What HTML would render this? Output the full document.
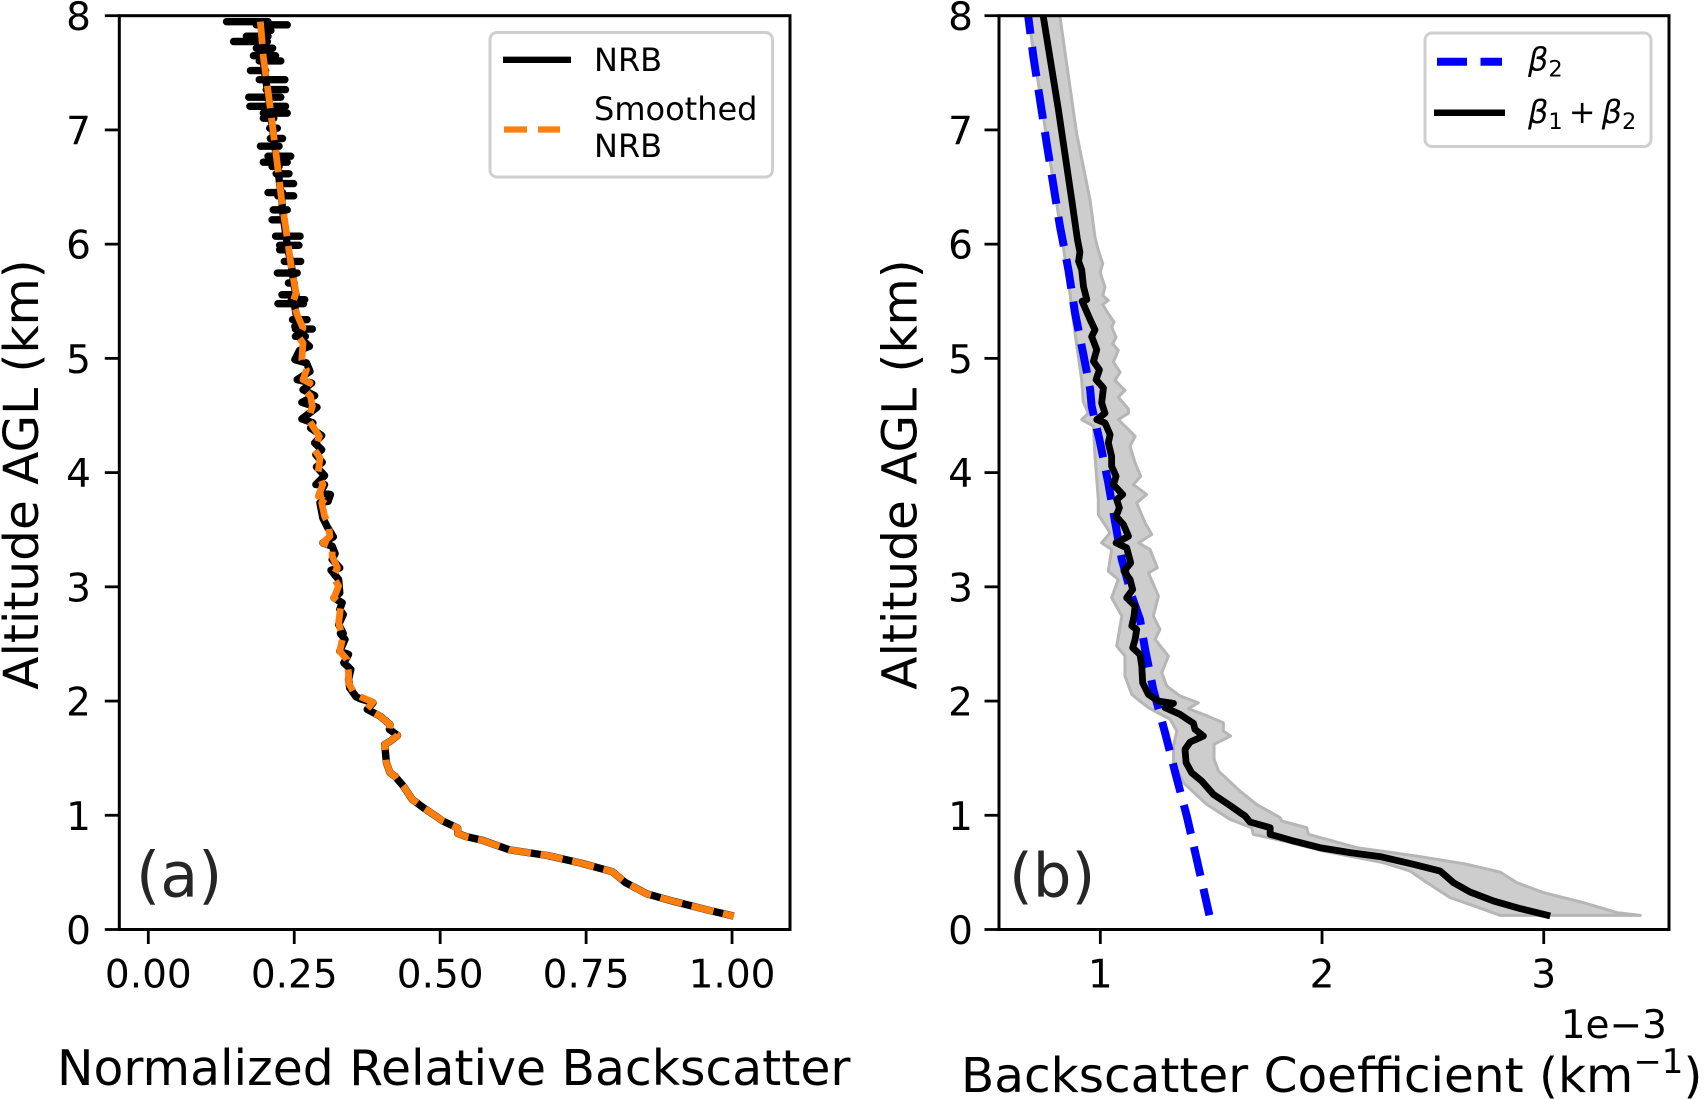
<!DOCTYPE html>
<html lang="en">
<head>
<meta charset="utf-8">
<title>NRB and backscatter coefficient profiles</title>
<style>
html,body{margin:0;padding:0;background:#fff;width:1705px;height:1099px;overflow:hidden}
svg{display:block}
text{font-family:"DejaVu Sans","Liberation Sans",sans-serif;fill:#000}
</style>
</head>
<body>
<svg id="figure" xmlns="http://www.w3.org/2000/svg" width="1705" height="1099" viewBox="0 0 1705 1099">
  <rect x="0" y="0" width="1705" height="1099" fill="#fff"/>
  <defs>
    <clipPath id="clipA"><rect x="119.3" y="15.7" width="670.7" height="913.8"/></clipPath>
    <clipPath id="clipB"><rect x="999" y="15.7" width="670" height="913.8"/></clipPath>
  </defs>
  <g id="panelA"></g>
  <g id="panelB"></g>

  <text transform="translate(38,474.5) rotate(-90)" text-anchor="middle" font-size="48.5">Altitude AGL (km)</text>
  <text x="57" y="1085" font-size="48.8">Normalized Relative Backscatter</text>
  <text x="136" y="896.5" font-size="62" style="fill:#262626">(a)</text>

  <text transform="translate(916.5,474.5) rotate(-90)" text-anchor="middle" font-size="48.5">Altitude AGL (km)</text>
  <text x="961" y="1092" font-size="48.5">Backscatter Coefficient (km<tspan dy="-19" font-size="34">−1</tspan><tspan dy="19">)</tspan></text>
  <text x="1667" y="1038" text-anchor="end" font-size="39">1e−3</text>
  <text x="1009" y="896.5" font-size="61" style="fill:#262626">(b)</text>

  <g>
    <rect x="490" y="32.5" width="282.5" height="144.5" rx="7" fill="#fff" stroke="#cfcfcf" stroke-width="3"/>
    <line x1="503" y1="59.8" x2="571" y2="59.8" stroke="#000" stroke-width="6.3"/>
    <text x="594" y="71" font-size="32">NRB</text>
    <line x1="504" y1="129.5" x2="560" y2="129.5" stroke="#ff7f0e" stroke-width="6.3" stroke-dasharray="23 11"/>
    <text x="594" y="120" font-size="32">Smoothed</text>
    <text x="594" y="157" font-size="32">NRB</text>
  </g>
  <g>
    <rect x="1425" y="33" width="226" height="113.5" rx="7" fill="#fff" stroke="#cfcfcf" stroke-width="3"/>
    <line x1="1437" y1="61.7" x2="1502" y2="61.7" stroke="#0000ff" stroke-width="8" stroke-dasharray="30 13.5"/>
    <text x="1528" y="70.5" font-size="32"><tspan font-style="italic">β</tspan><tspan font-size="22.5" dy="6">2</tspan></text>
    <line x1="1434" y1="112.7" x2="1505" y2="112.7" stroke="#000" stroke-width="6.5"/>
    <text x="1528" y="123" font-size="32"><tspan font-style="italic">β</tspan><tspan font-size="22.5" dy="6">1</tspan><tspan dy="-6" dx="6">+</tspan><tspan dx="6" font-style="italic">β</tspan><tspan font-size="22.5" dy="6">2</tspan></text>
  </g>
</svg>
<script>
const altitudeTicks = [0, 1, 2, 3, 4, 5, 6, 7, 8];
const nrbTicks = [0, 0.25, 0.5, 0.75, 1];
const nrbTickLabels = ['0.00', '0.25', '0.50', '0.75', '1.00'];
const backscatterTicks = [1, 2, 3];
const backscatterTickLabels = ['1', '2', '3'];

// Noisy upper NRB profile: at each altitude the signal swings between a low and a high reading.
const nrbUpperAltitudes = [7.948,7.92,7.87,7.82,7.774,7.715,7.65,7.604,7.52,7.44,7.353,7.287,7.207,7.147,7.103,7.015,6.925,6.858,6.77,6.718,6.68,6.616,6.53,6.452,6.423,6.3,6.213,6.07,5.99,5.951,5.849,5.747,5.66,5.557,5.514,5.479,5.339,5.28,5.257,5.193];
const nrbUpperLow = [.134,.185,.197,.168,.146,.185,.180,.19,.175,.19,.202,.172,.174,.197,.197,.208,.209,.192,.205,.197,.212,.219,.225,.205,.222,.214,.212,.218,.225,.225,.233,.221,.24,.229,.245,.222,.247,.251,.252,.252];
const nrbUpperHigh = [.205,.238,.21,.205,.204,.213,.218,.227,.201,.234,.235,.227,.235,.238,.215,.221,.23,.224,.244,.238,.224,.241,.249,.23,.249,.238,.233,.26,.258,.24,.261,.255,.25,.252,.268,.266,.272,.262,.281,.269];
const nrbUpperMean = [.192,.193,.194,.195,.195,.196,.197,.197,.199,.201,.204,.206,.208,.209,.210,.213,.215,.217,.219,.221,.222,.223,.225,.227,.228,.23,.232,.236,.238,.239,.244,.247,.249,.253,.253,.25,.255,.257,.259,.257];

// Lower NRB profile.
const nrbValues = [.276,.259,.251,.271,.277,.255,.28,.265,.285,.263,.289,.263,.282,.278,.297,.285,.297,.287,.298,.288,.302,.287,.302,.294,.312,.308,.294,.299,.306,.317,.299,.315,.32,.315,.328,.313,.326,.328,.318,.332,.328,.334,.326,.334,.329,.337,.328,.343,.335,.347,.343,.345,.356,.363,.385,.375,.397,.414,.413,.427,.415,.405,.406,.408,.414,.422,.437,.452,.471,.494,.502,.505,.530,.530,.544,.572,.619,.685,.742,.795,.817,.854,.901,.958,1.003];
const nrbAltitudes = [5.105,5.07,4.989,4.96,4.886,4.814,4.784,4.726,4.674,4.615,4.572,4.47,4.435,4.39,4.324,4.26,4.2,4.158,4.09,4.05,3.974,3.895,3.895,3.822,3.808,3.749,3.735,3.603,3.53,3.437,3.385,3.355,3.291,3.239,3.166,3.146,3.064,2.947,2.904,2.86,2.802,2.758,2.67,2.592,2.592,2.54,2.437,2.408,2.335,2.277,2.189,2.116,2.037,2.02,1.985,1.927,1.868,1.795,1.752,1.699,1.65,1.62,1.562,1.46,1.373,1.344,1.256,1.14,1.067,.988,.959,.948,.888,.841,.814,.781,.697,.647,.58,.506,.412,.312,.245,.171,.117];

const smoothedValues = [.192,.197,.206,.214,.223,.229,.236,.244,.253,.248,.255,.265,.257,.265,.263,.271,.265,.277,.267,.278,.281,.274,.28,.293,.285,.294,.291,.299,.291,.308,.297,.302,.308,.311,.299,.315,.315,.324,.316,.326,.318,.33,.326,.333,.328,.34,.343,.343,.354,.385,.375,.397,.414,.413,.427,.415,.405,.406,.408,.414,.422,.437,.452,.471,.494,.502,.505,.530,.530,.544,.572,.619,.685,.742,.795,.817,.854,.901,.958,1.003];
const smoothedAltitudes = [7.948,7.642,7.307,6.986,6.62,6.359,6.126,5.834,5.572,5.499,5.382,5.266,5.193,5.134,4.989,4.9,4.814,4.784,4.726,4.668,4.58,4.464,4.42,4.318,4.2,4.128,4,3.895,3.793,3.808,3.735,3.618,3.56,3.443,3.385,3.355,3.268,3.166,3.093,3.006,2.904,2.845,2.685,2.554,2.437,2.364,2.248,2.16,2.058,1.991,1.93,1.868,1.795,1.752,1.699,1.65,1.62,1.562,1.46,1.373,1.344,1.256,1.14,1.067,.988,.959,.948,.888,.841,.814,.781,.697,.647,.58,.506,.412,.312,.245,.171,.117];

const beta2Values = [.668,.698,.758,.818,.856,.886,.924,.954,.961,.996,1.036,1.066,1.097,1.142,1.179,1.202,1.239,1.292,1.340,1.390,1.435,1.492];
const beta2Altitudes = [8.1,7.642,6.884,6.155,5.776,5.397,5.03,4.73,4.58,4.289,3.91,3.575,3.24,2.919,2.714,2.452,2.1,1.723,1.358,.993,.614,.125];

const betaSumValues = [.735,.743,.811,.871,.897,.908,.902,.916,.924,.939,.918,.954,.976,.961,.984,.969,.996,.981,1.014,1.006,1.021,.984,1.021,1.044,1.036,1.051,1.051,1.071,1.059,1.101,1.074,1.086,1.071,1.104,1.127,1.071,1.119,1.137,1.107,1.134,1.146,1.119,1.157,1.152,1.142,1.164,1.157,1.146,1.179,1.187,1.191,1.217,1.262,1.330,1.292,1.360,1.420,1.427,1.465,1.405,1.382,1.387,1.412,1.457,1.510,1.578,1.653,1.675,1.766,1.766,1.803,1.871,1.991,2.127,2.262,2.412,2.533,2.593,2.668,2.773,2.894,3.029];
const betaSumAltitudes = [8.05,7.99,7.176,6.388,6.038,5.93,5.85,5.776,5.63,5.514,5.5,5.339,5.25,5.19,5.076,4.974,4.9,4.814,4.741,4.61,4.52,4.464,4.435,4.333,4.26,4.143,4.056,3.968,3.895,3.808,3.764,3.691,3.618,3.546,3.443,3.385,3.341,3.21,3.137,3.064,2.977,2.904,2.831,2.744,2.656,2.627,2.54,2.467,2.408,2.306,2.16,2.058,1.999,1.98,1.942,1.883,1.805,1.752,1.694,1.641,1.577,1.46,1.372,1.3,1.183,1.095,.993,.941,.891,.833,.813,.775,.716,.673,.638,.571,.512,.41,.328,.25,.183,.119];

const betaLowerValues = [.665,.675,.773,.833,.863,.886,.916,.923,.946,.916,.969,.976,.984,.991,.991,1.044,1.006,1.051,1.036,1.081,1.051,1.097,1.074,1.111,1.111,1.142,1.179,1.217,1.315,1.345,1.330,1.330,1.360,1.375,1.48,1.585,1.683,1.69,1.826,2.006,2.277,2.397,2.473,2.578,2.728,2.803];
const betaLowerAltitudes = [8.1,7.99,6.74,5.98,5.57,5.22,4.81,4.62,4.52,4.464,4.406,4.143,3.939,3.764,3.633,3.473,3.385,3.327,3.137,3.064,2.904,2.744,2.481,2.394,2.219,2.058,1.999,1.942,1.84,1.738,1.606,1.46,1.344,1.285,1.095,.964,.891,.833,.775,.687,.585,.512,.41,.279,.177,.124];

const betaUpperValues = [.81,.818,.893,.954,.966,.976,.991,1.011,.999,1.021,1.011,1.036,1.011,1.036,1.062,1.051,1.071,1.056,1.081,1.059,1.089,1.066,1.111,1.081,1.126,1.127,1.081,1.127,1.157,1.134,1.157,1.182,1.149,1.209,1.164,1.202,1.232,1.172,1.224,1.257,1.217,1.262,1.239,1.269,1.247,1.307,1.277,1.30,1.360,1.442,1.397,1.465,1.555,1.555,1.588,1.513,1.513,1.533,1.630,1.705,1.811,1.818,1.931,1.939,2.157,2.427,2.653,2.803,2.879,2.999,3.18,3.33,3.435];
const betaUpperAltitudes = [8.1,7.99,6.97,6.382,6.207,6.061,5.945,5.828,5.755,5.624,5.551,5.507,5.472,5.391,5.318,5.274,5.186,5.128,5.07,4.968,4.88,4.807,4.72,4.661,4.559,4.52,4.464,4.377,4.318,4.23,4.085,3.968,3.895,3.808,3.735,3.56,3.458,3.385,3.327,3.166,3.123,2.919,2.744,2.627,2.54,2.394,2.248,2.131,2.044,1.985,1.933,1.883,1.81,1.738,1.694,1.621,1.49,1.388,1.212,1.095,.979,.95,.891,.833,.716,.643,.571,.503,.41,.323,.235,.148,.124];

const NS = 'http://www.w3.org/2000/svg';
const axTop = 15.7;
const axBottom = 929.5;
const aLeft = 119.3;
const aRight = 790;
const bLeft = 999;
const bRight = 1669;

function yScale(alt) { return axBottom + (axTop - axBottom) * alt / 8; }
function xScaleA(v) { return aLeft + (aRight - aLeft) * (v + 0.0497) / 1.149; }
function xScaleB(v) { return bLeft + (bRight - bLeft) * (v - 0.543) / 3.022; }

function make(tag, parent) {
  const el = document.createElementNS(NS, tag);
  parent.appendChild(el);
  return el;
}
function pathFrom(xs, ys, xScale) {
  return xs.map((v, i) => (i ? 'L' : 'M') + xScale(v).toFixed(2) + ' ' + yScale(ys[i]).toFixed(2)).join(' ');
}
function styleCurve(el, color, width, dash) {
  el.setAttribute('fill', 'none');
  el.setAttribute('stroke', color);
  el.setAttribute('stroke-width', width);
  el.setAttribute('stroke-linejoin', 'round');
  if (dash) el.setAttribute('stroke-dasharray', dash);
}
function drawAxes(parent, left, right, xTicks, xLabels, xScale, labelX) {
  altitudeTicks.forEach(t => {
    const tick = make('line', parent);
    
    
    tick.setAttribute('x1', left - 14.5);
    tick.setAttribute('x2', left);
    tick.setAttribute('y1', yScale(t));
    tick.setAttribute('y2', yScale(t));
    tick.setAttribute('stroke', '#000');
    tick.setAttribute('stroke-width', 2.8);
    const label = make('text', parent);
    
    
    label.setAttribute('x', labelX);
    label.setAttribute('y', yScale(t) + 14.5);
    label.setAttribute('text-anchor', 'end');
    label.setAttribute('font-size', 39);
    label.textContent = String(t);
  });
  xTicks.forEach((t, i) => {
    const tick = make('line', parent);
    
    
    tick.setAttribute('x1', xScale(t));
    tick.setAttribute('x2', xScale(t));
    tick.setAttribute('y1', axBottom);
    tick.setAttribute('y2', axBottom + 14.5);
    tick.setAttribute('stroke', '#000');
    tick.setAttribute('stroke-width', 2.8);
    const label = make('text', parent);
    
    
    label.setAttribute('x', xScale(t));
    label.setAttribute('y', 987.5);
    label.setAttribute('text-anchor', 'middle');
    label.setAttribute('font-size', 39);
    label.textContent = xLabels[i];
  });
  const frame = make('rect', parent);
  
  
  frame.setAttribute('x', left);
  frame.setAttribute('y', axTop);
  frame.setAttribute('width', right - left);
  frame.setAttribute('height', axBottom - axTop);
  frame.setAttribute('fill', 'none');
  frame.setAttribute('stroke', '#000');
  frame.setAttribute('stroke-width', 3);
}

const panelA = document.getElementById('panelA');
const panelB = document.getElementById('panelB');

const curvesA = make('g', panelA);


curvesA.setAttribute('clip-path', 'url(#clipA)');

const nrbPathX = [];
const nrbPathY = [];
nrbUpperAltitudes.forEach((alt, i) => {
  nrbPathX.push(nrbUpperMean[i], nrbUpperLow[i], nrbUpperHigh[i], nrbUpperMean[i]);
  nrbPathY.push(alt, alt, alt, alt);
});
nrbValues.forEach((v, i) => {
  nrbPathX.push(v);
  nrbPathY.push(nrbAltitudes[i]);
});

const nrbLine = make('path', curvesA);


nrbLine.setAttribute('d', pathFrom(nrbPathX, nrbPathY, xScaleA));
styleCurve(nrbLine, '#000', 7.4);

const smoothedLine = make('path', curvesA);


smoothedLine.setAttribute('d', pathFrom(smoothedValues, smoothedAltitudes, xScaleA));
styleCurve(smoothedLine, '#ff7f0e', 6.8, '22.5 9.8');

drawAxes(panelA, aLeft, aRight, nrbTicks, nrbTickLabels, xScaleA, 91);

const curvesB = make('g', panelB);


curvesB.setAttribute('clip-path', 'url(#clipB)');

const band = make('path', curvesB);


band.setAttribute('d', pathFrom(betaLowerValues, betaLowerAltitudes, xScaleB) + ' ' +
  pathFrom(betaUpperValues.slice().reverse(), betaUpperAltitudes.slice().reverse(), xScaleB).replace('M', 'L') + ' Z');
band.setAttribute('fill', '#cdcdcd');
band.setAttribute('stroke', '#b6b6b6');
band.setAttribute('stroke-width', 3);
band.setAttribute('stroke-linejoin', 'round');

const beta2Line = make('path', curvesB);


beta2Line.setAttribute('d', pathFrom(beta2Values, beta2Altitudes, xScaleB));
styleCurve(beta2Line, '#0000ff', 8, '29.8 13.2');

const betaSumLine = make('path', curvesB);


betaSumLine.setAttribute('d', pathFrom(betaSumValues, betaSumAltitudes, xScaleB));
styleCurve(betaSumLine, '#000', 6.8);

drawAxes(panelB, bLeft, bRight, backscatterTicks, backscatterTickLabels, xScaleB, 973);
</script>
</body>
</html>
